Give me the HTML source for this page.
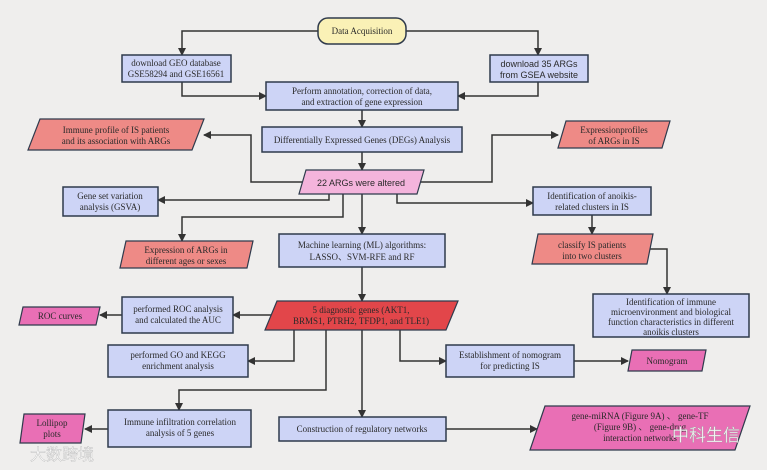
<!DOCTYPE html>
<html><head><meta charset="utf-8"><style>
body{margin:0;background:#efeeed;}
svg{display:block;}
text{font-family:"Liberation Serif",serif;font-size:9px;fill:#2a2a2a;text-anchor:middle;}
.s{font-family:"Liberation Sans",sans-serif;}
.b{fill:#cdd4f6;stroke:#2f3a4c;stroke-width:1.5;}
.r{fill:#ee8a86;stroke:#2f3a4c;stroke-width:1.2;}
.p{fill:#e96fb5;stroke:#2f3a4c;stroke-width:1.2;}
.l{fill:none;stroke:#333;stroke-width:1.5;}
</style></head><body>
<svg width="767" height="470" viewBox="0 0 767 470">
<defs><marker id="a" markerWidth="8" markerHeight="8" refX="7" refY="4" orient="auto" markerUnits="userSpaceOnUse"><path d="M0,0 L8,4 L0,8 z" fill="#333"/></marker></defs>
<rect x="4" y="4" width="759" height="462" fill="#efeeed"/>
<!-- lines -->
<g class="l" marker-end="url(#a)">
<path d="M318,31 H182 V55"/>
<path d="M406,31 H538 V55"/>
<path d="M182,82 V96 H266"/>
<path d="M538,82 V96 H458"/>
<path d="M362,110 V127"/>
<path d="M362,152 V170"/>
<path d="M303,182 H251 V135 H204"/>
<path d="M420,182 H492 V135 H558"/>
<path d="M329,194 V200 H158"/>
<path d="M343,194 V217 H182 V241"/>
<path d="M362,194 V234"/>
<path d="M397,194 V203 H533"/>
<path d="M592,215 V234"/>
<path d="M648,249 H667 V294"/>
<path d="M362,267 V301"/>
<path d="M272,315 H233"/>
<path d="M122,315 H100"/>
<path d="M294,330 V361 H248"/>
<path d="M326,330 V390 H179 V410"/>
<path d="M362,330 V417"/>
<path d="M400,330 V361 H446"/>
<path d="M574,361 H628"/>
<path d="M446,429 H537"/>
<path d="M108,429 H85"/>
</g>
<!-- nodes -->
<rect x="318" y="18" width="88" height="26" rx="10" fill="#faf1b6" stroke="#2f3a4c" stroke-width="1.5"/>
<text x="362" y="34">Data Acquisition</text>
<rect class="b" x="122" y="55" width="109" height="27"/>
<text x="176" y="66">download GEO database</text><text x="176" y="77">GSE58294 and GSE16561</text>
<rect class="b" x="490" y="55" width="98" height="27"/>
<text class="s" x="539" y="67">download 35 ARGs</text><text class="s" x="539" y="78">from GSEA website</text>
<rect class="b" x="266" y="82" width="192" height="28"/>
<text x="362" y="94">Perform annotation, correction of data,</text><text x="362" y="105">and extraction of gene expression</text>
<rect class="b" x="262" y="127" width="200" height="25"/>
<text x="362" y="143">Differentially Expressed Genes (DEGs) Analysis</text>
<polygon class="r" points="40,119 204,119 192,150 28,150"/>
<text x="116" y="133">Immune profile of IS patients</text><text x="116" y="144">and its association with ARGs</text>
<polygon class="r" points="566,121 670,121 662,148 558,148"/>
<text x="614" y="133">Expressionprofiles</text><text x="614" y="144">of ARGs in IS</text>
<polygon points="306,170 424,170 417,194 299,194" fill="#f4b4dc" stroke="#2f3a4c" stroke-width="1.2"/>
<text class="s" x="361" y="186">22 ARGs were altered</text>
<rect class="b" x="63" y="187" width="95" height="29"/>
<text x="110" y="199">Gene set variation</text><text x="110" y="210">analysis (GSVA)</text>
<rect class="b" x="533" y="187" width="118" height="28"/>
<text x="592" y="199">Identification of anoikis-</text><text x="592" y="210">related clusters in IS</text>
<polygon class="r" points="126,241 253,241 247,268 120,268" />
<text x="186" y="253">Expression of ARGs in</text><text x="186" y="264">different ages or sexes</text>
<rect class="b" x="279" y="234" width="166" height="33"/>
<text x="362" y="248">Machine learning (ML) algorithms:</text><text x="362" y="260">LASSO、SVM-RFE and RF</text>
<polygon class="r" points="538,234 653,234 647,264 532,264"/>
<text x="592" y="248">classify IS patients</text><text x="592" y="259">into two clusters</text>
<rect class="b" x="593" y="294" width="156" height="43"/>
<text x="671" y="305">Identification of immune</text><text x="671" y="315">microenvironment and biological</text><text x="671" y="325">function characteristics in different</text><text x="671" y="335">anoikis clusters</text>
<polygon points="277,301 458,301 446,330 265,330" fill="#e2464a" stroke="#2f3a4c" stroke-width="1.2"/>
<text x="361" y="313">5  diagnostic  genes (AKT1,</text><text x="361" y="324">BRMS1, PTRH2, TFDP1, and TLE1)</text>
<rect class="b" x="122" y="297" width="111" height="36"/>
<text x="178" y="312">performed ROC analysis</text><text x="178" y="323">and calculated the AUC</text>
<polygon class="p" points="23,307 100,307 96,325 19,325"/>
<text x="60" y="319">ROC curves</text>
<rect class="b" x="108" y="345" width="140" height="32"/>
<text x="178" y="358">performed GO and KEGG</text><text x="178" y="369">enrichment analysis</text>
<rect class="b" x="446" y="345" width="128" height="32"/>
<text x="510" y="358">Establishment of nomogram</text><text x="510" y="369">for predicting IS</text>
<polygon class="p" points="632,350 706,350 702,371 628,371"/>
<text x="667" y="364">Nomogram</text>
<polygon class="p" points="24,414 85,414 81,443 20,443"/>
<text x="52" y="426">Lollipop</text><text x="52" y="437">plots</text>
<rect class="b" x="108" y="410" width="143" height="37"/>
<text x="180" y="425">Immune infiltration correlation</text><text x="180" y="436">analysis of 5 genes</text>
<rect class="b" x="279" y="417" width="167" height="24"/>
<text x="362" y="432">Construction of regulatory networks</text>
<polygon class="p" points="545,406 750,406 735,450 530,450"/>
<text x="640" y="419">gene-miRNA (Figure 9A) 、 gene-TF</text><text x="640" y="430">(Figure 9B)  、 gene-drug</text><text x="640" y="441">interaction networks</text>
<text x="706" y="441" style="font-family:'Liberation Sans','Noto Sans CJK SC',sans-serif;font-size:17px;fill:#f4f4f4;stroke:#999;stroke-width:0.3">中科生信</text>
<text x="62" y="460" style="font-family:'Liberation Sans','Noto Sans CJK SC',sans-serif;font-size:16px;fill:#fafafa;stroke:#bbb;stroke-width:0.4">大数跨境</text>
</svg>
</body></html>
